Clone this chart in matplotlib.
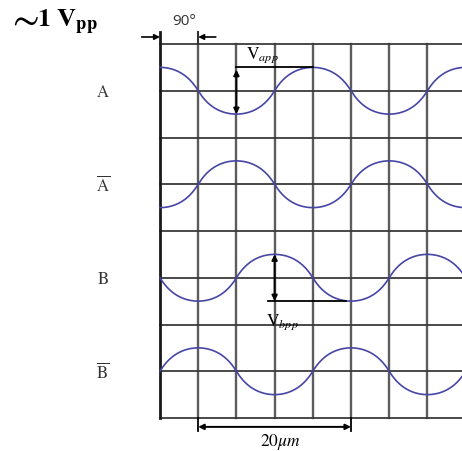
"""Quadrature encoder signals A, A-bar, B, B-bar on a grid (~1 Vpp)."""

import matplotlib

matplotlib.use("Agg")
import matplotlib.pyplot as plt
import numpy as np

plt.rcParams["mathtext.fontset"] = "stix"

# signal data: name, grid row of the baseline, phase offset in degrees
SIGNALS = [r"$\mathrm{A}$", r"$\overline{\mathrm{A}}$", r"$\mathrm{B}$", r"$\overline{\mathrm{B}}$"]
ROWS = [1, 3, 5, 7]
PHASES = [0, 180, 90, -90]
AMPLITUDE = 0.5      # in grid rows
PERIOD_UM = 20       # one full period = 20 um
GRID_STEP_UM = 5     # one grid column = 90 deg
N_COLS = 8
N_ROWS = 8
ROUNDNESS = 0.7      # arcs are rounder than a pure sine

WAVE_COLOR = "#4646a6"
VGRID_COLOR = "#5c5c5c"
HGRID_COLOR = "#3a3a3a"

# pixel layout of the original figure
W, H, DPI = 462, 452, 100
X0_PX, Y0_PX = 160, 45
PX_PER_UM, PX_PER_ROW = 7.64, 46.75

fig = plt.figure(figsize=(W / DPI, H / DPI), dpi=DPI)
ax = fig.add_axes([0, 0, 1, 1])
ax.set_xlim(-X0_PX / PX_PER_UM, (W - X0_PX) / PX_PER_UM)
ax.set_ylim((H - Y0_PX) / PX_PER_ROW, -Y0_PX / PX_PER_ROW)
ax.axis("off")

x_max = (W - X0_PX) / PX_PER_UM + 1

# grid
for i in range(1, N_COLS):
    ax.plot([i * GRID_STEP_UM] * 2, [0, N_ROWS], color=VGRID_COLOR, lw=1.7, zorder=1)
for j in range(N_ROWS + 1):
    ax.plot([0, x_max], [j, j], color=HGRID_COLOR, lw=1.3, zorder=1)
ax.plot([0, 0], [-0.26, N_ROWS], color="#1a1a1a", lw=2.0, zorder=2)
ax.plot([GRID_STEP_UM] * 2, [-0.26, 0], color="#333333", lw=1.5, zorder=1)

# waves
x = np.linspace(0, x_max, 1200)
for name, row, ph in zip(SIGNALS, ROWS, PHASES):
    c = np.cos(2 * np.pi * x / PERIOD_UM + np.deg2rad(ph))
    shaped = c * (1 + ROUNDNESS) / (1 + ROUNDNESS * np.abs(c))
    ax.plot(x, row - AMPLITUDE * shaped, color=WAVE_COLOR, lw=1.2, zorder=3)
    ax.text(-7.5, row, name, ha="center", va="center", fontsize=12, color="#333333")

arrow = dict(arrowstyle="-|>", color="black", lw=1.2, mutation_scale=8, shrinkA=0, shrinkB=0)
both = dict(arrowstyle="<|-|>", color="black", lw=1.4, mutation_scale=8, shrinkA=0, shrinkB=0)

# 90 deg phase marker
ax.annotate("", xy=(0, -0.15), xytext=(-2.4, -0.15), arrowprops=arrow)
ax.annotate("", xy=(GRID_STEP_UM, -0.15), xytext=(7.3, -0.15), arrowprops=arrow)
ax.text(3.2, -0.5, "90°", ha="center", va="center", fontsize=11, family="Open Sans",
        color="#333333")

# Vapp
ax.plot([10, 20], [0.5, 0.5], color="black", lw=1.3, zorder=4)
ax.annotate("", xy=(10, 0.55), xytext=(10, 1.5), arrowprops=both, zorder=4)
ax.text(11.3, 0.22, r"$\mathrm{V}_{app}$", ha="left", va="center", fontsize=12.5)

# Vbpp
ax.plot([14.2, 24.3], [5.5, 5.5], color="black", lw=1.3, zorder=4)
ax.annotate("", xy=(15, 4.5), xytext=(15, 5.5), arrowprops=both, zorder=4)
ax.text(16.0, 5.92, r"$\mathrm{V}_{bpp}$", ha="center", va="center", fontsize=12.5)

# 20 um period
ax.plot([5, 5], [8, 8.27], color="black", lw=1.3)
ax.plot([25, 25], [8, 8.27], color="black", lw=1.3)
ax.annotate("", xy=(5, 8.19), xytext=(25, 8.19), arrowprops=both)
ax.text(15.8, 8.5, r"$20\mu m$", ha="center", va="center", fontsize=12.5)

# ~1 Vpp title
fig.text(7 / W, 1 - 19 / H, r"$\sim$", ha="left", va="center", fontsize=28)
fig.text(37 / W, 1 - 22 / H, r"$\mathbf{1\ V_{pp}}$", ha="left", va="center",
         fontsize=19)

fig.savefig("out.png", dpi=DPI)
